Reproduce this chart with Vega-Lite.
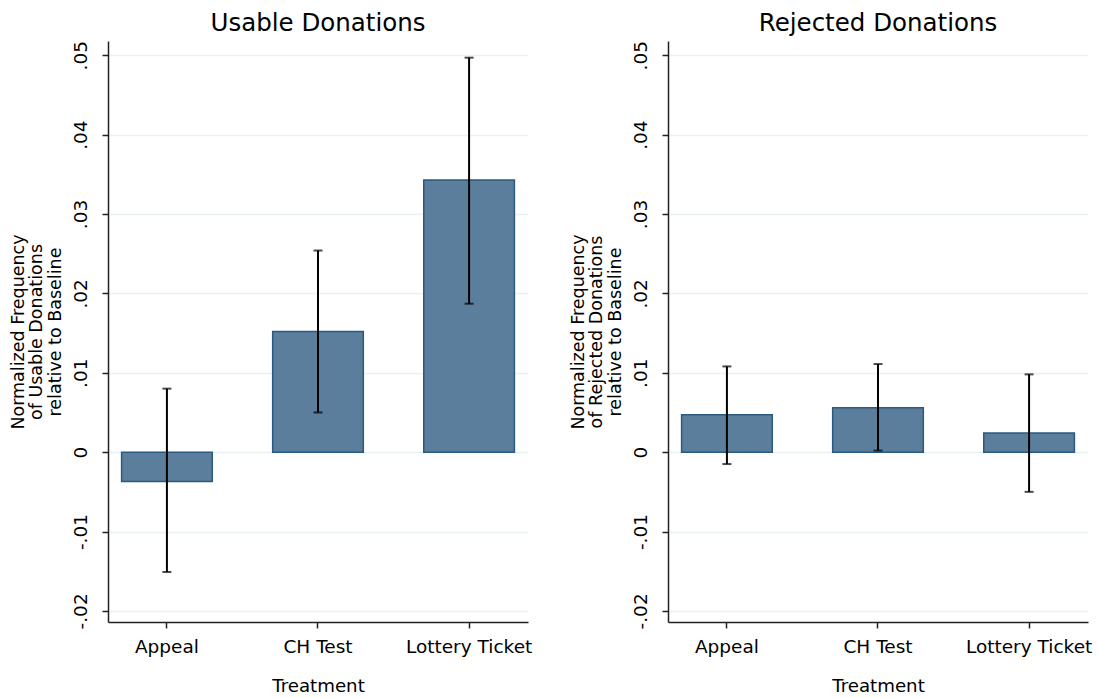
{
  "$schema": "https://vega.github.io/schema/vega-lite/v6.json",
  "background": "white",
  "padding": {"left": 9, "top": 11, "right": 8, "bottom": 4},
  "spacing": 37,
  "config": {
    "font": "DejaVu Sans",
    "view": {"stroke": null},
    "title": {"fontSize": 24.5, "fontWeight": "normal", "color": "#000", "anchor": "middle", "offset": 4},
    "axis": {
      "domainColor": "#222", "domainWidth": 1.5, "tickColor": "#222", "tickWidth": 1.5, "tickSize": 6,
      "labelColor": "#000", "titleColor": "#000", "labelFontSize": 18.5, "titleFontSize": 17.5, "titleFontWeight": "normal",
      "gridColor": "#e9f1f2", "gridWidth": 1.5
    }
  },
  "datasets": {
    "d": [
      {"panel": "Usable", "treatment": "Appeal", "value": -0.0037, "lo": -0.0151, "hi": 0.0080},
      {"panel": "Usable", "treatment": "CH Test", "value": 0.0152, "lo": 0.0050, "hi": 0.0254},
      {"panel": "Usable", "treatment": "Lottery Ticket", "value": 0.0343, "lo": 0.0187, "hi": 0.0497},
      {"panel": "Rejected", "treatment": "Appeal", "value": 0.0047, "lo": -0.0015, "hi": 0.0108},
      {"panel": "Rejected", "treatment": "CH Test", "value": 0.0056, "lo": 0.0002, "hi": 0.0111},
      {"panel": "Rejected", "treatment": "Lottery Ticket", "value": 0.0024, "lo": -0.0050, "hi": 0.0098}
    ]
  },
  "hconcat": [
    {
      "title": "Usable Donations",
      "width": 420, "height": 581,
      "data": {"name": "d"},
      "transform": [{"filter": "datum.panel === 'Usable'"}],
      "encoding": {
        "x": {"field": "treatment", "type": "nominal", "sort": null,
              "scale": {"paddingInner": 0.4, "paddingOuter": 0.09},
              "axis": {"title": "Treatment", "labelAngle": 0, "labelPadding": 9, "titlePadding": 22, "titleFontSize": 18.2, "grid": false}}
      },
      "layer": [
        {
          "mark": {"type": "bar", "fill": "#5a7e9b", "stroke": "#2b5a80", "strokeWidth": 1.5},
          "encoding": {
            "y": {"field": "value", "type": "quantitative",
                  "title": ["Normalized Frequency", "of Usable Donations", "relative to Baseline"],
                  "scale": {"domain": [-0.0214, 0.0518], "nice": false, "zero": false},
                  "axis": {"titleLineHeight": 18.5, "titlePadding": 7,
                           "values": [-0.02, -0.01, 0, 0.01, 0.02, 0.03, 0.04, 0.05],
                           "labelExpr": "replace(replace(format(datum.value, '.2~f'), '\u2212', '-'), '0.', '.')",
                           "labelAngle": -90, "labelAlign": "center", "labelBaseline": "bottom", "labelPadding": 12,
                           "grid": true}},
            "y2": {"datum": 0}
          }
        },
        {
          "mark": {"type": "errorbar", "ticks": {"size": 9, "thickness": 2, "color": "#000"}, "rule": {"strokeWidth": 2, "color": "#000"}},
          "encoding": {
            "y": {"field": "lo", "type": "quantitative", "title": ["Normalized Frequency", "of Usable Donations", "relative to Baseline"]},
            "y2": {"field": "hi"}
          }
        }
      ]
    },
    {
      "title": "Rejected Donations",
      "width": 420, "height": 581,
      "data": {"name": "d"},
      "transform": [{"filter": "datum.panel === 'Rejected'"}],
      "encoding": {
        "x": {"field": "treatment", "type": "nominal", "sort": null,
              "scale": {"paddingInner": 0.4, "paddingOuter": 0.09},
              "axis": {"title": "Treatment", "labelAngle": 0, "labelPadding": 9, "titlePadding": 22, "titleFontSize": 18.2, "grid": false}}
      },
      "layer": [
        {
          "mark": {"type": "bar", "fill": "#5a7e9b", "stroke": "#2b5a80", "strokeWidth": 1.5},
          "encoding": {
            "y": {"field": "value", "type": "quantitative",
                  "title": ["Normalized Frequency", "of Rejected Donations", "relative to Baseline"],
                  "scale": {"domain": [-0.0214, 0.0518], "nice": false, "zero": false},
                  "axis": {"titleLineHeight": 18.5, "titlePadding": 7,
                           "values": [-0.02, -0.01, 0, 0.01, 0.02, 0.03, 0.04, 0.05],
                           "labelExpr": "replace(replace(format(datum.value, '.2~f'), '\u2212', '-'), '0.', '.')",
                           "labelAngle": -90, "labelAlign": "center", "labelBaseline": "bottom", "labelPadding": 12,
                           "grid": true}},
            "y2": {"datum": 0}
          }
        },
        {
          "mark": {"type": "errorbar", "ticks": {"size": 9, "thickness": 2, "color": "#000"}, "rule": {"strokeWidth": 2, "color": "#000"}},
          "encoding": {
            "y": {"field": "lo", "type": "quantitative", "title": ["Normalized Frequency", "of Rejected Donations", "relative to Baseline"]},
            "y2": {"field": "hi"}
          }
        }
      ]
    }
  ]
}
